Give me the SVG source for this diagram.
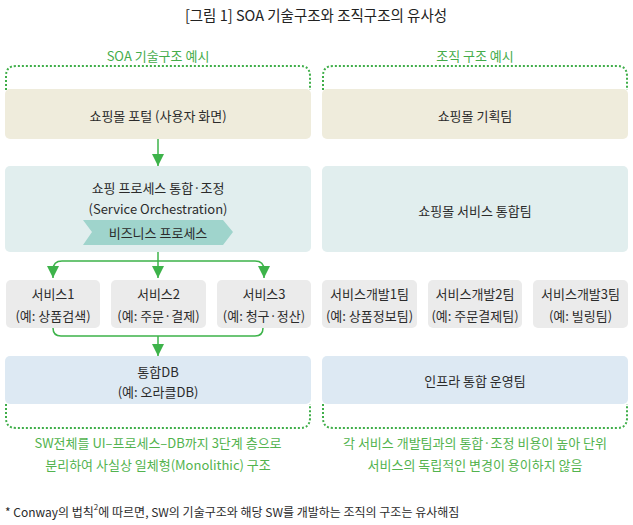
<svg xmlns="http://www.w3.org/2000/svg" width="633" height="525" viewBox="0 0 633 525">
<style>
text{font-family:"Noto Sans CJK KR","Noto Sans",sans-serif;fill:#2b2b2b;font-size:13px;text-anchor:middle;dominant-baseline:central}
.title{font-size:14.5px;fill:#222}
.hdr{fill:#45ac4a;font-size:13px}
.note{fill:#52b34e;font-size:13px}
.foot{font-size:12px;text-anchor:start}
.dot{fill:none;stroke:#3fae49;stroke-width:2;stroke-dasharray:2 2}
.beige{fill:#efecdc}
.teal{fill:#e1eeee}
.svc{fill:#ebebeb}
.db{fill:#dde9f3}
.ln{fill:none;stroke:#3db34a;stroke-width:1.5}
</style>
<defs>
<marker id="ah" viewBox="0 0 12 12" refX="12" refY="6" markerWidth="12" markerHeight="12" markerUnits="userSpaceOnUse" orient="auto-start-reverse">
<path d="M0,0 L12,6 L0,12 Z" fill="#3db34a"/>
</marker>
</defs>
<rect width="633" height="525" fill="#fff"/>
<text class="title" x="316" y="14">[그림 1] SOA 기술구조와 조직구조의 유사성</text>
<text class="hdr" x="158" y="55">SOA 기술구조 예시</text>
<text class="hdr" x="475" y="55">조직 구조 예시</text>
<g id="frames">
<path class="dot" d="M6,90 V76 Q6,66 16,66 H300 Q310,66 310,76 V90"/>
<path class="dot" d="M6,404 V418 Q6,428 16,428 H300 Q310,428 310,418 V404"/>
<path class="dot" d="M323,90 V76 Q323,66 333,66 H617 Q627,66 627,76 V90"/>
<path class="dot" d="M323,404 V418 Q323,428 333,428 H617 Q627,428 627,418 V404"/>
</g>
<g id="portal"><rect class="beige" x="5" y="89" width="306" height="50" rx="5"/><text x="158" y="115">쇼핑몰 포털 (사용자 화면)</text></g>
<g id="orch"><rect class="teal" x="5" y="166" width="306" height="86" rx="5"/><text x="158" y="187">쇼핑 프로세스 통합·조정</text><text x="158" y="208">(Service Orchestration)</text>
<path d="M83,220 H223 L233,232 L223,245 H83 L92,232 Z" fill="#9fd4cc"/><text x="158" y="232">비즈니스 프로세스</text></g>
<g id="svc1"><rect class="svc" x="6" y="280" width="94" height="48" rx="5"/><text x="53" y="293">서비스1</text><text x="53" y="315">(예: 상품검색)</text></g>
<g id="svc2"><rect class="svc" x="111" y="280" width="95" height="48" rx="5"/><text x="158.5" y="293">서비스2</text><text x="158.5" y="315">(예: 주문·결제)</text></g>
<g id="svc3"><rect class="svc" x="217" y="280" width="94" height="48" rx="5"/><text x="264" y="293">서비스3</text><text x="264" y="315">(예: 청구·정산)</text></g>
<g id="db"><rect class="db" x="5" y="356" width="306" height="48" rx="5"/><text x="158" y="371">통합DB</text><text x="158" y="391">(예: 오라클DB)</text></g>
<g id="plan"><rect class="beige" x="322" y="89" width="306" height="50" rx="5"/><text x="475" y="115">쇼핑몰 기획팀</text></g>
<g id="integ"><rect class="teal" x="322" y="166" width="306" height="86" rx="5"/><text x="475" y="210">쇼핑몰 서비스 통합팀</text></g>
<g id="team1"><rect class="svc" x="322" y="280" width="95" height="48" rx="5"/><text x="369.5" y="293">서비스개발1팀</text><text x="369.5" y="315">(예: 상품정보팀)</text></g>
<g id="team2"><rect class="svc" x="428" y="280" width="94" height="48" rx="5"/><text x="475" y="293">서비스개발2팀</text><text x="475" y="315">(예: 주문결제팀)</text></g>
<g id="team3"><rect class="svc" x="533" y="280" width="95" height="48" rx="5"/><text x="580.5" y="293">서비스개발3팀</text><text x="580.5" y="315">(예: 빌링팀)</text></g>
<g id="infra"><rect class="db" x="322" y="356" width="306" height="48" rx="5"/><text x="475" y="380">인프라 통합 운영팀</text></g>
<g id="connectors">
<path class="ln" d="M158,139 V166" marker-end="url(#ah)"/>
<path class="ln" d="M158,252 V278" marker-end="url(#ah)"/>
<path class="ln" d="M53,278 V270 Q53,261 62,261 H255 Q264,261 264,270 V278" marker-start="url(#ah)" marker-end="url(#ah)"/>
<path class="ln" d="M53,328 Q53,336 61,336 H255 Q263,336 263,328"/>
<path class="ln" d="M158,336 V356" marker-end="url(#ah)"/>
</g>
<text class="note" x="158" y="442">SW전체를 UI–프로세스–DB까지 3단계 층으로</text>
<text class="note" x="158" y="464">분리하여 사실상 일체형(Monolithic) 구조</text>
<text class="note" x="475" y="442">각 서비스 개발팀과의 통합·조정 비용이 높아 단위</text>
<text class="note" x="475" y="464">서비스의 독립적인 변경이 용이하지 않음</text>
<text class="foot" x="5" y="511">* Conway의 법칙<tspan font-size="8" dy="-5">2</tspan><tspan dy="5">에 따르면, SW의 기술구조와 해당 SW를 개발하는 조직의 구조는 유사해짐</tspan></text>
</svg>
